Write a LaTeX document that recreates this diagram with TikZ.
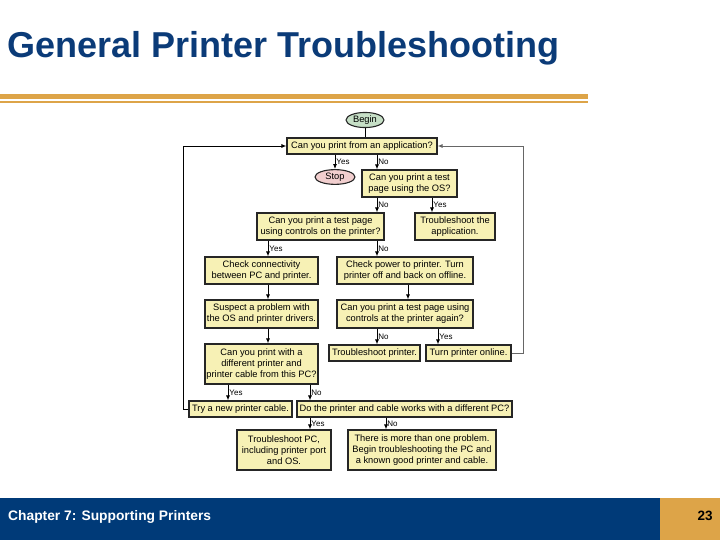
\documentclass[tikz,border=0pt]{standalone}
\usepackage{fontspec}
\setmainfont{Liberation Sans}
\usetikzlibrary{arrows.meta,shapes.geometric}
\definecolor{titleblue}{HTML}{0B3B78}
\definecolor{barblue}{HTML}{003A78}
\definecolor{gold}{HTML}{DDA448}
\definecolor{boxfill}{HTML}{F7F1B5}
\definecolor{beginfill}{HTML}{C6DFC6}
\definecolor{stopfill}{HTML}{F2CFCF}
\tikzset{
  box/.style={draw=black!85,fill=boxfill,line width=1.1pt,align=center,inner sep=1pt,
    font=\fontsize{9.3}{11}\selectfont},
  term/.style={box,ellipse},
  lab/.style={anchor=west,inner sep=1pt,font=\fontsize{8}{8}\selectfont},
  arr/.style={-{Latex[length=5pt,width=4pt]},line width=0.9pt}
}

\begin{document}
\begin{tikzpicture}[x=1pt,y=-1pt]
\useasboundingbox (0,0) rectangle (720,540);
% slide frame
\node[anchor=base west,inner sep=0pt,text=titleblue,font=\fontsize{36}{36}\selectfont\bfseries] (title) at (7,58) {General Printer Troubleshooting};
\fill[gold] (0,94.5) rectangle (588,99.5);
\fill[gold] (0,101) rectangle (588,103);
\fill[barblue] (0,498) rectangle (660,540);
\fill[gold] (660,498) rectangle (720,540);
\node[anchor=base west,inner sep=0pt,text=white,font=\fontsize{13.8}{14}\selectfont\bfseries] (chap) at (8,520) {Chapter 7: Supporting Printers};
\node[anchor=base,inner sep=0pt,font=\fontsize{13.5}{14}\selectfont\bfseries] (page) at (705,520) {23};
% flowchart
\node[term,fill=beginfill,minimum width=38pt,minimum height=13pt] (begin) at (365,120) {Begin};
\node[box,minimum width=150pt,minimum height=16pt] (q1) at (362,146) {Can you print from an application?};
\node[term,fill=stopfill,minimum width=40pt,minimum height=12pt] (stop) at (335,177) {Stop};
\node[box,minimum width=95pt,minimum height=27pt] (q2) at (409.5,183.5) {Can you print a test\\page using the OS?};
\node[box,minimum width=127pt,minimum height=27pt] (q3) at (320.5,226.5) {Can you print a test page\\using controls on the printer?};
\node[box,minimum width=80pt,minimum height=27pt] (fixapp) at (455,226.5) {Troubleshoot the\\application.};
\node[box,minimum width=113pt,minimum height=27pt] (conn) at (261.5,270.5) {Check connectivity\\between PC and printer.};
\node[box,minimum width=136pt,minimum height=27pt] (power) at (405,270.5) {Check power to printer. Turn\\printer off and back on offline.};
\node[box,minimum width=113pt,minimum height=28pt] (drivers) at (261.5,314) {Suspect a problem with\\the OS and printer drivers.};
\node[box,minimum width=136pt,minimum height=28pt] (q4) at (405,314) {Can you print a test page using\\controls at the printer again?};
\node[box,minimum width=91pt,minimum height=16pt] (fixprn) at (374.5,353) {Troubleshoot printer.};
\node[box,minimum width=85pt,minimum height=16pt] (online) at (468.5,353) {Turn printer online.};
\node[box,minimum width=113pt,minimum height=40pt] (q5) at (261.5,364) {Can you print with a\\different printer and\\printer cable from this PC?};
\node[box,minimum width=103pt,minimum height=16pt] (cable) at (240.5,409) {Try a new printer cable.};
\node[box,minimum width=215pt,minimum height=16pt] (q6) at (404.5,409) {Do the printer and cable works with a different PC?};
\node[box,minimum width=94pt,minimum height=40pt] (fixpc) at (284,450) {Troubleshoot PC,\\including printer port\\and OS.};
\node[box,minimum width=148pt,minimum height=40pt] (multi) at (422,450) {There is more than one problem.\\Begin troubleshooting the PC and\\a known good printer and cable.};
% arrow lanes
\coordinate (lnA) at (228,0);
\coordinate (lnB) at (268,0);
\coordinate (lnC) at (310,0);
\coordinate (lnE) at (377,0);
\coordinate (lnF) at (386,0);
\coordinate (lnG) at (408,0);
\coordinate (lnH) at (432,0);
\coordinate (lnI) at (438,0);
\coordinate (lloop) at (183,0);
\coordinate (rloop) at (523,0);
\path[line width=1pt] (begin) edge (q1.north -| begin);
\path[arr] (q1.south -| stop) edge node[lab] (y1) {Yes} (stop)
  (q1.south -| lnE) edge node[lab] (n1) {No} (q2.north -| lnE)
  (q2.south -| lnE) edge node[lab] (n2) {No} (q3.north -| lnE)
  (q2.south -| lnH) edge node[lab] (y2) {Yes} (fixapp.north -| lnH)
  (q3.south -| lnB) edge node[lab] (y3) {Yes} (conn.north -| lnB)
  (q3.south -| lnE) edge node[lab] (n3) {No} (power.north -| lnE)
  (conn.south -| lnB) edge (drivers.north -| lnB)
  (power.south -| lnG) edge (q4.north -| lnG)
  (drivers.south -| lnB) edge (q5.north -| lnB)
  (q4.south -| lnE) edge node[lab] (n4) {No} (fixprn.north -| lnE)
  (q4.south -| lnI) edge node[lab] (y4) {Yes} (online.north -| lnI)
  (q5.south -| lnA) edge node[lab] (y5) {Yes} (cable.north -| lnA)
  (q5.south -| lnC) edge node[lab] (n5) {No} (q6.north -| lnC)
  (q6.south -| lnC) edge node[lab] (y6) {Yes} (fixpc.north -| lnC)
  (q6.south -| lnF) edge node[lab] (n6) {No} (multi.north -| lnF);
% loops back to the top
\draw[arr] (cable.west) -- (cable.west -| lloop) |- (q1.west);
\draw[arr,black!60] (online.east) -- (online.east -| rloop) |- (q1.east);
\end{tikzpicture}
\end{document}
